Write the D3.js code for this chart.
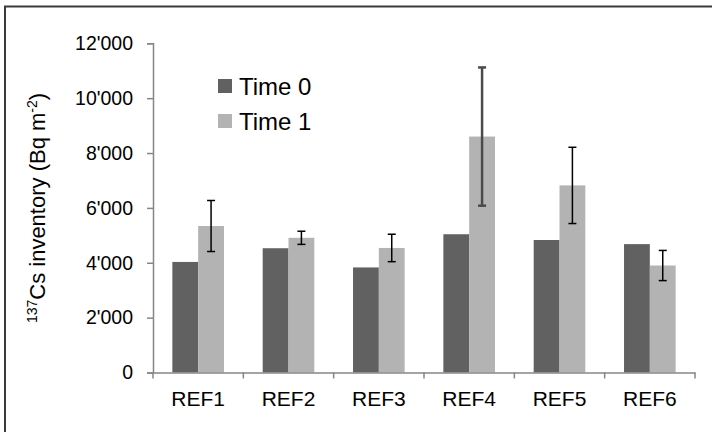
<!DOCTYPE html>
<html>
<head>
<meta charset="utf-8">
<script src="https://cdn.jsdelivr.net/npm/d3@7"></script>
<style>
  body { margin: 0; background: #fff; }
  svg { display: block; font-family: Arial, "Liberation Sans", sans-serif; }
</style>
</head>
<body>
<svg id="chart" width="712" height="432"></svg>
<script>
const sites = ['REF1', 'REF2', 'REF3', 'REF4', 'REF5', 'REF6'];
const seriesNames = ['Time 0', 'Time 1'];
const time0 = [4030, 4530, 3830, 5040, 4830, 4680];
const time1 = [5340, 4910, 4540, 8600, 6820, 3900];
const time1Err = [930, 240, 500, 2520, 1390, 550];
const yTicks = [0, 2000, 4000, 6000, 8000, 10000, 12000];

const svg = d3.select('#chart');
const colors = { 'Time 0': '#616161', 'Time 1': '#b3b3b3' };

// outer frame (runs off the right and bottom edge in the original)
svg.append('rect')
  .attr('x', 5).attr('y', 6.5)
  .attr('width', 720).attr('height', 440)
  .attr('fill', 'none')
  .attr('stroke', '#3a3a3a')
  .attr('stroke-width', 2);

const x = d3.scaleBand()
  .domain(sites)
  .range([153, 695]);

const xInner = d3.scaleBand()
  .domain(seriesNames)
  .range([0, x.bandwidth()])
  .paddingOuter(0.75);

const y = d3.scaleLinear()
  .domain([0, 12000])
  .range([372.5, 43.3]);

const fmt = (v) => d3.format(',')(v).replace(/,/g, "'");

// bars
const rows = sites.map((s, i) => ({ site: s, values: [time0[i], time1[i]], err: time1Err[i] }));

const group = svg.selectAll('g.site')
  .data(rows)
  .enter().append('g')
  .attr('class', 'site')
  .attr('transform', (d) => `translate(${ x(d.site) }, 0)`);

group.selectAll('rect')
  .data((d) => d.values.map((v, k) => ({ key: seriesNames[k], value: v })))
  .enter().append('rect')
  .attr('x', (d) => xInner(d.key))
  .attr('y', (d) => y(d.value))
  .attr('width', xInner.bandwidth())
  .attr('height', (d) => y(0) - y(d.value))
  .attr('fill', (d) => colors[d.key]);

// error bars on Time 1
const err = group.append('g')
  .attr('stroke', (d) => d.site === 'REF4' ? '#4a4a4a' : '#000')
  .attr('stroke-width', (d) => d.site === 'REF4' ? 2.5 : 1.5);

const cx = xInner('Time 1') + xInner.bandwidth() / 2;

err.append('line')
  .attr('x1', cx).attr('x2', cx)
  .attr('y1', (d) => y(d.values[1] + d.err))
  .attr('y2', (d) => y(d.values[1] - d.err));

err.append('line')
  .attr('x1', cx - 4).attr('x2', cx + 4)
  .attr('y1', (d) => y(d.values[1] + d.err))
  .attr('y2', (d) => y(d.values[1] + d.err));

err.append('line')
  .attr('x1', cx - 4).attr('x2', cx + 4)
  .attr('y1', (d) => y(d.values[1] - d.err))
  .attr('y2', (d) => y(d.values[1] - d.err));

// y axis
const yAxis = svg.append('g')
  .attr('transform', 'translate(153, 0)')
  .call(d3.axisLeft(y).tickValues(yTicks).tickFormat(fmt).tickSize(6).tickPadding(14));

// x axis
const xAxis = svg.append('g')
  .attr('transform', `translate(0, ${ y(0) })`)
  .call(d3.axisBottom(x).tickSize(0).tickPadding(19));

xAxis.selectAll('.tick line').remove();
xAxis.selectAll('.bound')
  .data(sites.concat(['end']))
  .enter().append('line')
  .attr('x1', (d, i) => i < sites.length ? x(d) : x.range()[1])
  .attr('x2', (d, i) => i < sites.length ? x(d) : x.range()[1])
  .attr('y1', 0).attr('y2', 6)
  .attr('stroke', '#868686')
  .attr('stroke-width', 1.5);

[yAxis, xAxis].forEach((ax) => {
  ax.select('.domain').attr('stroke', '#868686').attr('stroke-width', 1.5);
  ax.selectAll('.tick line').attr('stroke', '#868686').attr('stroke-width', 1.5);
  ax.selectAll('text').attr('fill', '#000').attr('font-family', 'Arial, "Liberation Sans", sans-serif');
});
yAxis.selectAll('text').attr('font-size', 19.5);
xAxis.selectAll('text').attr('font-size', 21);

// y axis title
const title = svg.append('text')
  .attr('transform', 'translate(45, 208) rotate(-90)')
  .attr('text-anchor', 'middle')
  .attr('font-size', 22);
title.append('tspan').attr('font-size', 14).attr('dy', -8).text('137');
title.append('tspan').attr('dy', 8).text('Cs inventory (Bq m');
title.append('tspan').attr('font-size', 14).attr('dy', -8).text('-2');
title.append('tspan').attr('dy', 8).text(')');

// legend
const legend = svg.append('g')
  .attr('transform', 'translate(218, 79)');

const item = legend.selectAll('g')
  .data(seriesNames)
  .enter().append('g')
  .attr('transform', (d, i) => `translate(0, ${ i * 35 })`);

item.append('rect')
  .attr('width', 14).attr('height', 14)
  .attr('fill', (d) => colors[d]);

item.append('text')
  .attr('x', 21).attr('y', 16)
  .attr('font-size', 24)
  .text((d) => d);
</script>
</body>
</html>
